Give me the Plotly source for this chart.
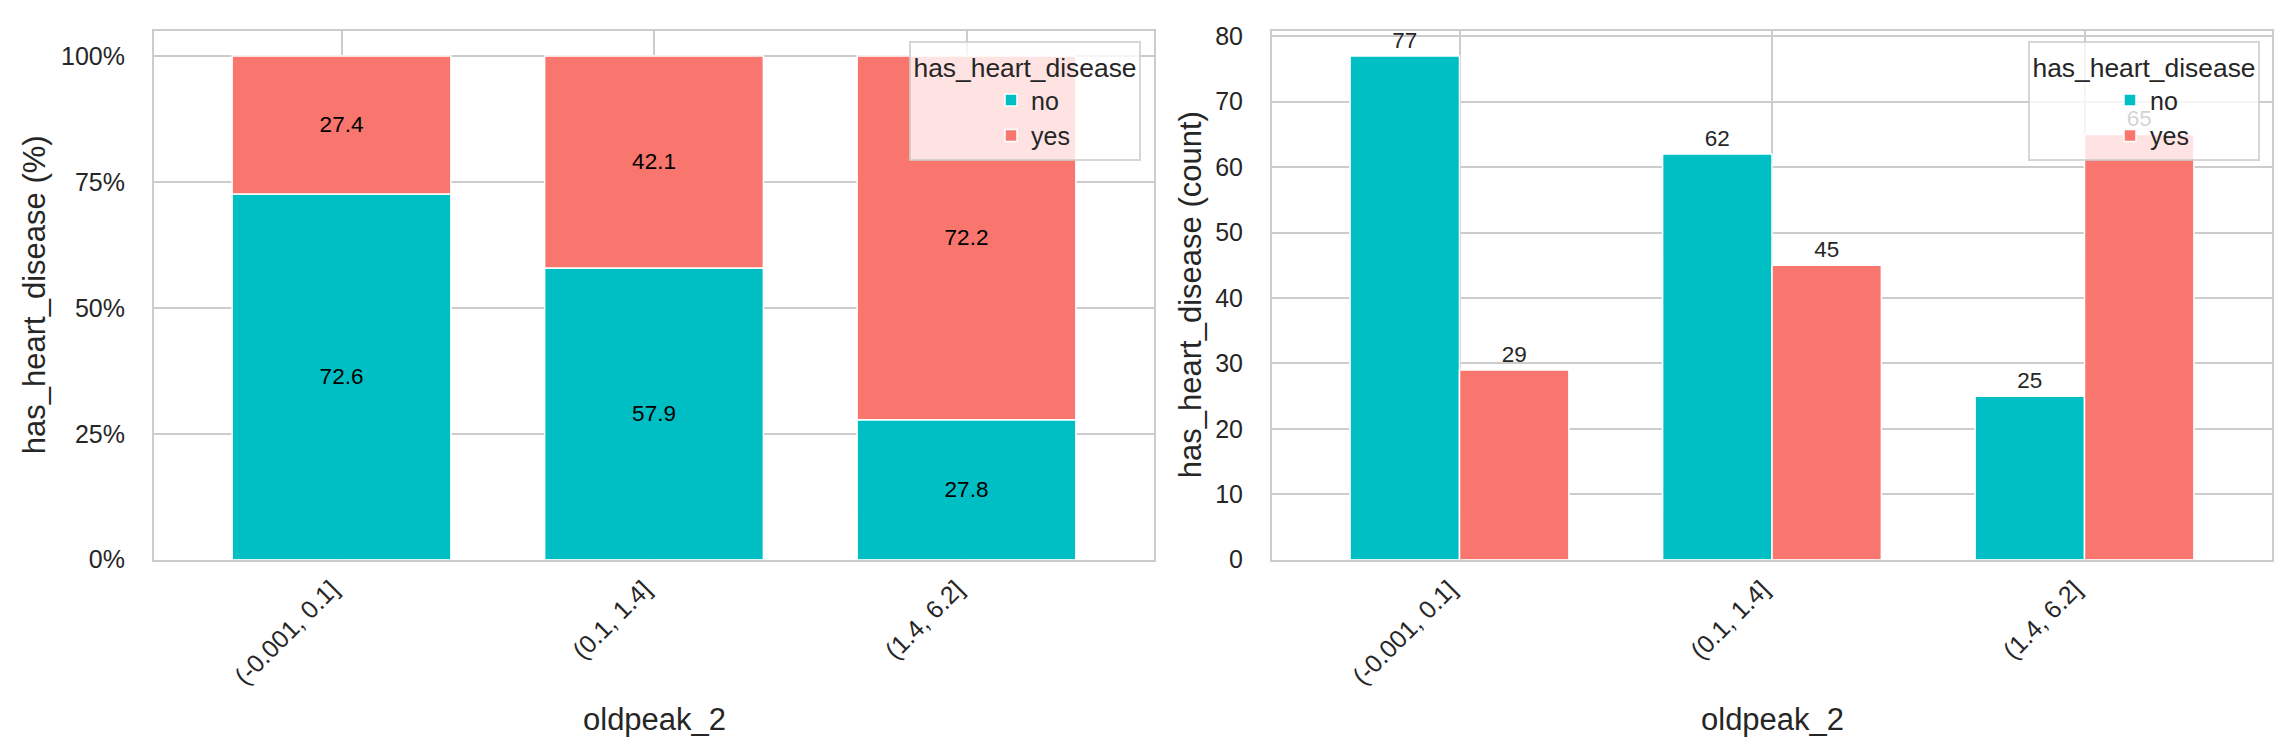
import plotly.graph_objects as go

# ---- data ----
categories = ["(-0.001, 0.1]", "(0.1, 1.4]", "(1.4, 6.2]"]
no_pct = [72.6, 57.9, 27.8]
yes_pct = [27.4, 42.1, 72.2]
no_count = [77, 62, 25]
yes_count = [29, 45, 65]
pct_ticks = [0, 25, 50, 75, 100]
pct_tick_labels = ["0%", "25%", "50%", "75%", "100%"]
legend_title = "has_heart_disease"
x_title = "oldpeak_2"
y_title_left = "has_heart_disease (%)"
y_title_right = "has_heart_disease (count)"

# ---- style ----
FONT = "Liberation Sans, Arial, sans-serif"
TEAL = "#00BFC4"
RED = "#F8766D"
INK = "#262626"
GRID = "#cccccc"
W, H = 2283, 748

# plot-area geometry (pixels)
L1, R1 = 146, 1146
L2, R2 = 1264, 2264
TOP, BOT = 22.7, 551.7


def px_x(p):
    return p / W


def px_y(p):
    return 1 - p / H


fig = go.Figure()

bar_line = dict(color="white", width=1.5)
label_font_in = dict(size=22.5, color="black", family=FONT)
label_font_out = dict(size=22.5, color=INK, family=FONT)

# left: stacked percentages
fig.add_trace(go.Bar(
    x=categories, y=no_pct, base=[0] * len(no_pct), width=0.7, offset=-0.35,
    name="no", legend="legend", marker=dict(color=TEAL, line=bar_line),
    texttemplate="%{y:.1f}", textposition="inside", insidetextanchor="middle",
    textangle=0, constraintext="none", textfont=label_font_in,
    xaxis="x", yaxis="y", hoverinfo="skip"))
fig.add_trace(go.Bar(
    x=categories, y=yes_pct, base=no_pct, width=0.7, offset=-0.35,
    name="yes", legend="legend", marker=dict(color=RED, line=bar_line),
    texttemplate="%{y:.1f}", textposition="inside", insidetextanchor="middle",
    textangle=0, constraintext="none", textfont=label_font_in,
    xaxis="x", yaxis="y", hoverinfo="skip"))

# right: grouped counts
fig.add_trace(go.Bar(
    x=categories, y=no_count, width=0.35, offset=-0.35,
    name="no", legend="legend2", marker=dict(color=TEAL, line=bar_line),
    texttemplate="%{y}", textposition="outside", textangle=0,
    constraintext="none", cliponaxis=False, textfont=label_font_out,
    xaxis="x2", yaxis="y2", hoverinfo="skip"))
fig.add_trace(go.Bar(
    x=categories, y=yes_count, width=0.35, offset=0,
    name="yes", legend="legend2", marker=dict(color=RED, line=bar_line),
    texttemplate="%{y}", textposition="outside", textangle=0,
    constraintext="none", cliponaxis=False, textfont=label_font_out,
    xaxis="x2", yaxis="y2", hoverinfo="skip"))

common_axis = dict(
    showgrid=True, gridcolor=GRID, gridwidth=2,
    showline=True, linecolor=GRID, linewidth=2, mirror=True,
    zeroline=False, ticks="outside", tickcolor="rgba(0,0,0,0)",
    tickfont=dict(size=25, color=INK, family=FONT),
    automargin=False, fixedrange=True,
)
x_common = dict(type="category", range=[-0.6, 2.6], tickangle=-45,
                ticklen=3, ticklabelshift=-10)

legend_common = dict(
    y=px_y(33), yanchor="top", xanchor="right",
    bgcolor="rgba(255,255,255,0.8)", bordercolor="rgba(204,204,204,0.8)",
    borderwidth=2, font=dict(size=25, color=INK, family=FONT),
    title=dict(text=legend_title, side="top center",
               font=dict(size=26.4, color=INK, family=FONT)),
    indentation=80, traceorder="normal",
)

fig.update_layout(
    template="none",
    width=W, height=H,
    margin=dict(l=0, r=0, t=0, b=0),
    paper_bgcolor="white", plot_bgcolor="white",
    barmode="overlay",
    font=dict(family=FONT, color=INK),
    xaxis=dict(common_axis, **x_common, domain=[px_x(L1), px_x(R1)], anchor="y"),
    yaxis=dict(common_axis, domain=[px_y(BOT), px_y(TOP)], anchor="x",
               range=[0, 105], tickvals=pct_ticks, ticktext=pct_tick_labels,
               ticklen=22),
    xaxis2=dict(common_axis, **x_common, domain=[px_x(L2), px_x(R2)], anchor="y2"),
    yaxis2=dict(common_axis, domain=[px_y(BOT), px_y(TOP)], anchor="x2",
                range=[0, 80.85], dtick=10, tick0=0, ticklen=22),
    legend=dict(legend_common, x=px_x(1133)),
    legend2=dict(legend_common, x=px_x(2252)),
    showlegend=True,
)

title_font = dict(size=31, color=INK, family=FONT)
mid_y = px_y((TOP + BOT) / 2)
fig.add_annotation(text=y_title_left, xref="paper", yref="paper",
                   x=px_x(26), y=mid_y, textangle=-90, showarrow=False,
                   xanchor="center", yanchor="middle", font=title_font)
fig.add_annotation(text=y_title_right, xref="paper", yref="paper",
                   x=px_x(1182), y=mid_y, textangle=-90, showarrow=False,
                   xanchor="center", yanchor="middle", font=title_font)
fig.add_annotation(text=x_title, xref="paper", yref="paper",
                   x=px_x((L1 + R1) / 2), y=px_y(711), showarrow=False,
                   xanchor="center", yanchor="middle", font=title_font)
fig.add_annotation(text=x_title, xref="paper", yref="paper",
                   x=px_x((L2 + R2) / 2), y=px_y(711), showarrow=False,
                   xanchor="center", yanchor="middle", font=title_font)

fig.write_html("out.html")
